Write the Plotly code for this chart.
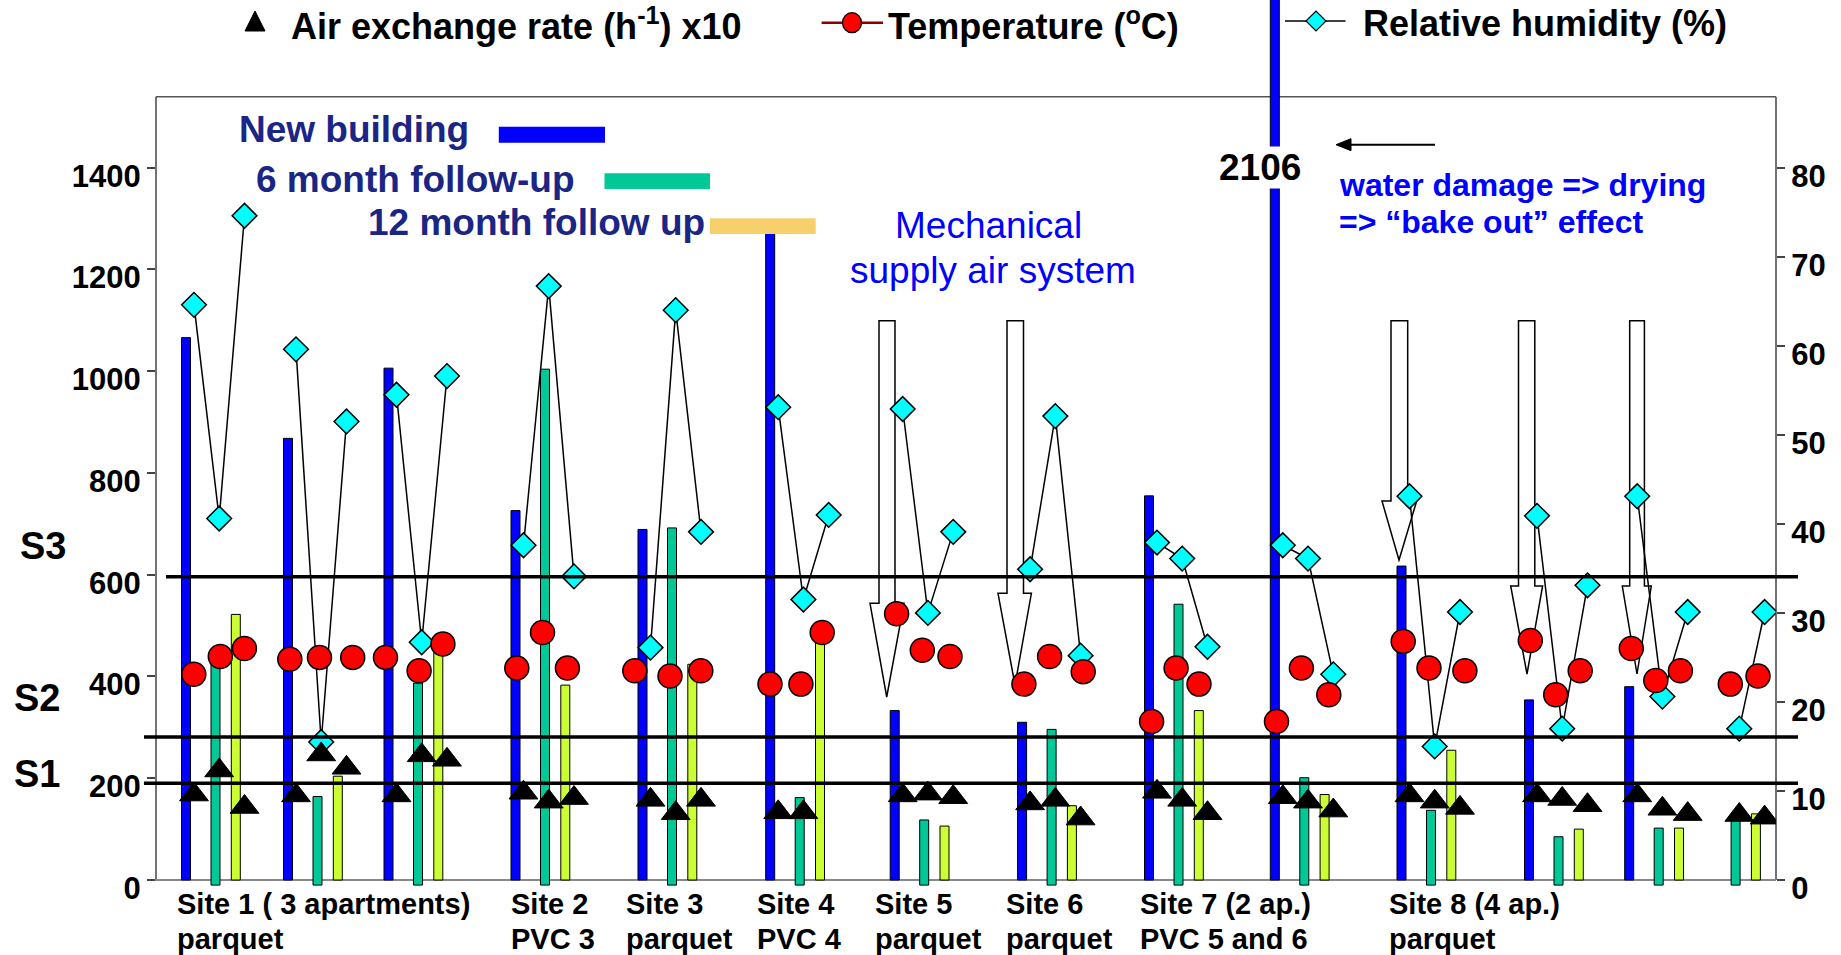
import plotly.graph_objects as go

# ---------------- data ----------------
apartments = ["Site1-a", "Site1-b", "Site1-c", "Site2", "Site3", "Site4", "Site5",
              "Site6", "Site7-a", "Site7-b", "Site8-a", "Site8-b", "Site8-c", "Site8-d"]
# position of each apartment along the (linear) x axis
apartment_pos = [215.5, 317.5, 418, 545, 672, 799.7, 924.2, 1051.6, 1178.5, 1304.3,
                 1431, 1558.5, 1658.7, 1735.6]

new_building = [1066, 868, 1006, 726, 689, 1271, 333, 310, 755, 2106, 617, 354, 380, None]
six_month = [430, 164, 387, 1004, 692, 162, 118, 296, 542, 201, 137, 85, 102, 122]
twelve_month = [522, 204, 465, 383, 424, 485, 106, 146, 333, 168, 255, 100, 102, 130]

# three measurements per apartment (new, 6 month, 12 month)
air_exchange_x10 = [9.6, 12.3, 8.2, 9.5, 14.1, 12.6, 9.5, 14.0, 13.5, 9.8, 8.8, 9.2,
                    9.0, 7.5, 9.0, 7.6, 7.6, None, 9.5, 9.7, 9.3, 8.6, 9.0, 6.9,
                    9.9, 9.0, 7.5, 9.3, 8.8, 7.8, 9.5, 8.8, 8.1, 9.5, 9.1, 8.4,
                    9.5, 8.0, 7.4, None, 7.3, 7.0]
humidity = [64.6, 40.6, 74.6, 59.6, 15.5, 51.5, 54.5, 26.7, 56.6, 37.6, 66.7, 34.1,
            26.1, 64.0, 39.1, 53.1, 31.5, 41.0, 52.9, 30.0, 39.1, 34.9, 52.1, 25.2,
            37.9, 36.1, 26.2, 37.6, 36.1, 23.1, 43.1, 15.0, 30.1, 40.9, 17.0, 33.1,
            43.1, 20.6, 30.1, None, 17.0, 30.1]
temperature = [23.1, 25.1, 26.0, 24.8, 25.0, 25.0, 25.0, 23.5, 26.5, 23.8, 27.8, 23.8,
               23.5, 22.9, 23.5, 22.0, 22.0, 27.8, 29.9, 25.8, 25.1, 22.0, 25.1, 23.4,
               17.8, 23.8, 22.0, 17.8, 23.8, 20.8, 26.8, 23.8, 23.5, 26.9, 20.8, 23.5,
               26.0, 22.4, 23.5, None, 22.0, 22.9]
temperature_pos = [193.8, 220.3, 244.4, 289.8, 319.5, 352.7, 385.5, 419.1, 442.9,
                   516.8, 542.5, 567.4, 634.8, 670, 700.8, 770, 800.9, 822.2,
                   896.6, 922.3, 950, 1023.9, 1049.6, 1083.2, 1151.6, 1176.1, 1199,
                   1276.5, 1301.4, 1328.8, 1403.2, 1429, 1464.9, 1530.3, 1555.7, 1580.2,
                   1631.3, 1655.8, 1680.4, None, 1730.3, 1758]

thresholds = {"S1": 190, "S2": 281, "S3": 596}
left_ticks = [0, 200, 400, 600, 800, 1000, 1200, 1400]
right_ticks = [0, 10, 20, 30, 40, 50, 60, 70, 80]
site_labels = [("Site 1 ( 3 apartments)", "parquet"), ("Site 2", "PVC 3"),
               ("Site 3", "parquet"), ("Site 4", "PVC 4"), ("Site 5", "parquet"),
               ("Site 6", "parquet"), ("Site 7 (2 ap.)", "PVC 5 and 6"),
               ("Site 8 (4 ap.)", "parquet")]

# ---------------- layout constants ----------------
FONT = "Liberation Sans, Arial, sans-serif"
W, H = 1841, 955
X0_PX, X1_PX = 156, 1776
ZERO_PX = 880
PLOT_BOTTOM_PX = 888
K = 1400 / 712.3                       # left-axis units per pixel
Y_MIN = -(PLOT_BOTTOM_PX - ZERO_PX) * K
Y_MAX = ZERO_PX * K
RIGHT_SCALE = 17.5                     # left units per right unit
FRAME_TOP = 1539.6
TEAL_BASE = -10
BLUE_OFF, YELLOW_OFF = -29.5, 20.3
SLOT_OFF = (-21.5, 3.7, 29.0)
NAVY = "#1B2585"
BLUE = "#0000FF"


def px_x(p):
    return (p - X0_PX) / (X1_PX - X0_PX)


def px_y(p):
    return (PLOT_BOTTOM_PX - p) / PLOT_BOTTOM_PX


def val_y(v):
    return (v - Y_MIN) / (Y_MAX - Y_MIN)


slot_x = [p + o for p in apartment_pos for o in SLOT_OFF]

# humidity: lines connect the three measurements within an apartment
hx, hy = [], []
for i in range(len(apartments)):
    for j in range(3):
        hx.append(slot_x[3 * i + j])
        hy.append(humidity[3 * i + j])
    hx.append(None)
    hy.append(None)

fig = go.Figure()
fig.add_bar(x=[p + BLUE_OFF for p in apartment_pos], y=new_building, width=9,
            marker=dict(color=BLUE, line=dict(color="black", width=1)), name="New building")
fig.add_bar(x=apartment_pos, y=[v - TEAL_BASE for v in six_month], base=TEAL_BASE, width=9,
            marker=dict(color="#00C896", line=dict(color="black", width=1)),
            name="6 month follow-up")
fig.add_bar(x=[p + YELLOW_OFF for p in apartment_pos], y=twelve_month, width=9,
            marker=dict(color="#CCFF33", line=dict(color="black", width=1)),
            name="12 month follow up")
fig.add_scatter(x=hx, y=hy, yaxis="y2", mode="lines+markers", connectgaps=False,
                line=dict(color="black", width=1.5),
                marker=dict(symbol="diamond", size=19, color="#00FFFF",
                            line=dict(color="black", width=1.5)),
                name="Relative humidity (%)")
fig.add_scatter(x=temperature_pos, y=temperature, yaxis="y2", mode="markers",
                marker=dict(symbol="circle", size=24, color="#FF0000",
                            line=dict(color="black", width=1.5)),
                name="Temperature (oC)")
fig.add_scatter(x=slot_x, y=air_exchange_x10, yaxis="y2", mode="markers",
                marker=dict(symbol="triangle-up", size=25, color="black",
                            line=dict(color="black", width=1)),
                name="Air exchange rate x10")

shapes = []
# frame
fr = dict(xref="paper", yref="paper", layer="below")
shapes.append(dict(type="line", x0=0, x1=0, y0=val_y(0), y1=val_y(FRAME_TOP),
                   line=dict(color="#444", width=1.5), **fr))
shapes.append(dict(type="line", x0=1, x1=1, y0=val_y(0), y1=val_y(FRAME_TOP),
                   line=dict(color="#444", width=1.5), **fr))
shapes.append(dict(type="line", x0=0, x1=1, y0=val_y(FRAME_TOP), y1=val_y(FRAME_TOP),
                   line=dict(color="#555", width=1.5), **fr))
shapes.append(dict(type="line", x0=px_x(148), x1=1, y0=val_y(0), y1=val_y(0),
                   line=dict(color="#888", width=2), **fr))

# hollow block arrows (mechanical supply air)
arrows = [
    (879, 895, 870, 904, 320.7, 603.3, 886.7, 697),
    (1007, 1023.5, 998, 1031.4, 320.7, 593.3, 1015, 685),
    (1391, 1407.7, 1382, 1416.7, 320.7, 501, 1399, 560),
    (1518.5, 1534.8, 1510.7, 1542.6, 320.7, 586, 1527, 674),
    (1629.7, 1644.4, 1622.3, 1651.3, 320.7, 586, 1637, 674),
]
for sl, sr, hl, hr, top, sh, tx, ty in arrows:
    pts = [(sl, top), (sr, top), (sr, sh), (hr, sh), (tx, ty), (hl, sh), (sl, sh)]
    path = "M " + " L ".join(f"{px_x(a):.5f},{px_y(b):.5f}" for a, b in pts) + " Z"
    shapes.append(dict(type="path", path=path, fillcolor="white",
                       line=dict(color="black", width=1.5), **fr))

# threshold lines
for name, v in thresholds.items():
    start = 166 if name == "S3" else 144
    shapes.append(dict(type="line", xref="paper", yref="paper", x0=px_x(start),
                       x1=px_x(1798), y0=val_y(v), y1=val_y(v), layer="above",
                       line=dict(color="black", width=3.5)))

# bar legend swatches
for (x0, x1, y0, y1, col) in [(498.8, 605, 126.7, 142.7, BLUE),
                              (604.5, 710, 173.3, 189, "#00C896"),
                              (710, 815.7, 218.3, 234, "#F6D06A")]:
    shapes.append(dict(type="rect", xref="paper", yref="paper", x0=px_x(x0), x1=px_x(x1),
                       y0=px_y(y1), y1=px_y(y0), fillcolor=col, line=dict(width=0),
                       layer="above"))

# top legend symbols
pix = dict(xref="paper", yref="paper", xsizemode="pixel", ysizemode="pixel", layer="above")
shapes.append(dict(type="path", xanchor=px_x(255), yanchor=px_y(22),
                   path="M -10,-9 L 10,-9 L 0,11 Z", fillcolor="black",
                   line=dict(color="black", width=1), **pix))
shapes.append(dict(type="line", xref="paper", yref="paper", x0=px_x(821.6), x1=px_x(883),
                   y0=px_y(22.7), y1=px_y(22.7), line=dict(color="#8B0000", width=2.5),
                   layer="above"))
shapes.append(dict(type="circle", xanchor=px_x(852), yanchor=px_y(22.7),
                   x0=-9.5, x1=9.5, y0=-10, y1=10, fillcolor="#FF0000",
                   line=dict(color="black", width=1.2), **pix))
shapes.append(dict(type="line", xref="paper", yref="paper", x0=px_x(1285), x1=px_x(1345.5),
                   y0=px_y(21), y1=px_y(21), line=dict(color="black", width=1.5),
                   layer="above"))
shapes.append(dict(type="path", xanchor=px_x(1316), yanchor=px_y(21),
                   path="M -10,0 L 0,10 L 10,0 L 0,-10 Z", fillcolor="#00FFFF",
                   line=dict(color="black", width=1.2), **pix))

# pointer arrow toward the 2106 bar
shapes.append(dict(type="line", xref="paper", yref="paper", x0=px_x(1348), x1=px_x(1435),
                   y0=px_y(144.7), y1=px_y(144.7), line=dict(color="black", width=2),
                   layer="above"))
shapes.append(dict(type="path", xanchor=px_x(1336), yanchor=px_y(144.7),
                   path="M 0,0 L 15,6 L 15,-6 Z", fillcolor="black",
                   line=dict(color="black", width=1), **pix))

annotations = []


def txt(text, x, y, size, color="black", bold=True, xanchor="left", **kw):
    annotations.append(dict(text=text, x=px_x(x), y=px_y(y), xref="paper", yref="paper",
                            xanchor=xanchor, yanchor="middle", showarrow=False,
                            font=dict(family=FONT, size=size, color=color,
                                      weight="bold" if bold else "normal"), **kw))


txt("Air exchange rate (h<sup>-1</sup>) x10", 289, 24, 36)
txt("Temperature (<sup>o</sup>C)", 886, 24, 36)
txt("Relative humidity (%)", 1361.3, 24, 36)

txt("New building", 236.5, 130, 37, NAVY)
txt("6 month follow-up", 253.5, 179, 37, NAVY)
txt("12 month follow up", 366, 222, 37, NAVY)

txt("Mechanical", 988.6, 226, 37, BLUE, bold=False, xanchor="center")
txt("supply air system", 993, 270, 37, BLUE, bold=False, xanchor="center")

txt("2106", 1260, 168, 37, xanchor="center", bgcolor="white", borderpad=0)
txt("water damage => drying", 1336.7, 185, 32, BLUE)
txt("=> \u201cbake out\u201d effect", 1336.7, 222, 32, BLUE)

txt("S3", 17.8, 546, 38)
txt("S2", 11.9, 697.5, 38)
txt("S1", 11.9, 774, 38)

site_label_x = [175.2, 509, 623.7, 755.4, 872.8, 1004.1, 1137.8, 1387.2]
for (l1, l2), sx in zip(site_labels, site_label_x):
    txt(l1, sx, 904, 29)
    txt(l2, sx, 939, 29)

tickfont = dict(family=FONT, size=31, color="black", weight="bold")
fig.update_layout(
    width=W, height=H, autosize=False,
    margin=dict(l=X0_PX, r=W - X1_PX, t=0, b=H - PLOT_BOTTOM_PX, pad=0),
    plot_bgcolor="white", paper_bgcolor="white",
    barmode="overlay", showlegend=False,
    xaxis=dict(range=[X0_PX, X1_PX], visible=False),
    yaxis=dict(range=[Y_MIN, Y_MAX], tickvals=left_ticks,
               ticktext=[str(t) for t in left_ticks], ticks="outside", ticklen=8,
               tickwidth=1.5, tickcolor="#444", showgrid=False, zeroline=False,
               showline=False, tickfont=tickfont, ticklabelshift=8),
    yaxis2=dict(range=[Y_MIN / RIGHT_SCALE, Y_MAX / RIGHT_SCALE], overlaying="y",
                side="right", tickvals=right_ticks, ticktext=[str(t) for t in right_ticks],
                ticks="outside", ticklen=8, tickwidth=1.5, tickcolor="#444",
                showgrid=False, zeroline=False, showline=False, tickfont=tickfont,
                ticklabelshift=8),
    shapes=shapes, annotations=annotations,
)

fig.write_html("out.html")
